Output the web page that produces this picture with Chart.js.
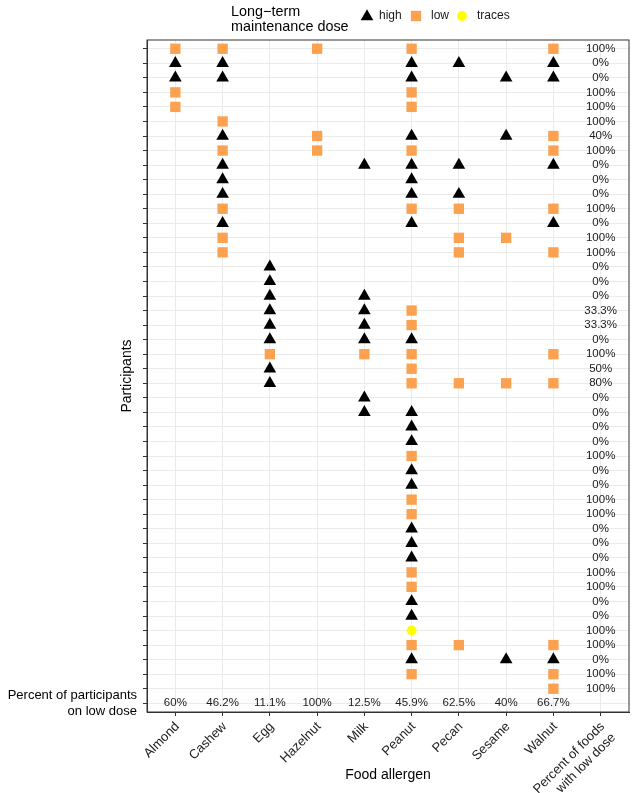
<!DOCTYPE html>
<html>
<head>
<meta charset="utf-8">
<script src="https://cdn.jsdelivr.net/npm/chart.js@4.4.1/dist/chart.umd.min.js"></script>
<style>
  body { margin: 0; background: #fff; }
  #caja { width: 638px; height: 793px; }
</style>
</head>
<body>
<div id="caja"><canvas id="grafica" width="638" height="793"></canvas></div>
<script>
const alimentos = ['Almond', 'Cashew', 'Egg', 'Hazelnut', 'Milk', 'Peanut', 'Pecan', 'Sesame', 'Walnut'];
const etiquetaPorcentajeFila = ['Percent of foods', 'with low dose'];
const etiquetaPorcentajeAlimento = ['Percent of participants', 'on low dose'];

// una cadena por participante, un caracter por alimento (H = high, L = low, T = traces, . = nada)
const filasDosis = [
  'LL.L.L..L', 'HH...HH.H', 'HH...H.HH', 'L....L...', 'L....L...',
  '.L.......', '.H.L.H.HL', '.L.L.L..L', '.H..HHH.H', '.H...H...',
  '.H...HH..', '.L...LL.L', '.H...H..H', '.L....LL.', '.L....L.L',
  '..H......', '..H......', '..H.H....', '..H.HL...', '..H.HL...',
  '..H.HH...', '..L.LL..L', '..H..L...', '..H..LLLL', '....H....',
  '....HH...', '.....H...', '.....H...', '.....L...', '.....H...',
  '.....H...', '.....L...', '.....L...', '.....H...', '.....H...',
  '.....H...', '.....L...', '.....L...', '.....H...', '.....H...',
  '.....T...', '.....LL.L', '.....H.HH', '.....L..L', '........L'
];

const porcentajeFila = [
  '100%', '0%', '0%', '100%', '100%', '100%', '40%', '100%', '0%', '0%',
  '0%', '100%', '0%', '100%', '100%', '0%', '0%', '0%', '33.3%', '33.3%',
  '0%', '100%', '50%', '80%', '0%', '0%', '0%', '0%', '100%', '0%',
  '0%', '100%', '100%', '0%', '0%', '0%', '100%', '100%', '0%', '0%',
  '100%', '100%', '0%', '100%', '100%'
];
const porcentajeAlimento = ['60%', '46.2%', '11.1%', '100%', '12.5%', '45.9%', '62.5%', '40%', '66.7%'];

const fuente = '"Liberation Sans", Arial, sans-serif';
const naranja = '#FBA14F';
const amarillo = '#FFFF00';

const puntos = { H: [], L: [], T: [] };
filasDosis.forEach((fila, i) => {
  fila.split('').forEach((c, j) => {
    if (puntos[c]) puntos[c].push({ x: j + 1, y: i + 1 });
  });
});

const etiquetasX = alimentos.concat([etiquetaPorcentajeFila]);
const filaFinal = filasDosis.length + 1;

const extras = {
  id: 'extras',
  afterDatasetsDraw(chart) {
    const ctx = chart.ctx;
    const x = chart.scales.x, y = chart.scales.y;
    ctx.save();
    ctx.fillStyle = '#1a1a1a';
    ctx.font = '11.5px ' + fuente;
    ctx.textAlign = 'center';
    ctx.textBaseline = 'middle';
    porcentajeFila.forEach((t, i) => {
      ctx.fillText(t, x.getPixelForValue(alimentos.length + 1), y.getPixelForValue(i + 1));
    });
    porcentajeAlimento.forEach((t, j) => {
      ctx.fillText(t, x.getPixelForValue(j + 1), y.getPixelForValue(filaFinal));
    });
    ctx.restore();
  },
  afterDraw(chart) {
    const ctx = chart.ctx;
    const a = chart.chartArea;
    ctx.save();
    ctx.strokeStyle = '#333';
    ctx.lineWidth = 1;
    ctx.strokeRect(a.left, a.top, a.right - a.left, a.bottom - a.top);

    ctx.fillStyle = '#000';
    ctx.font = '14px ' + fuente;
    ctx.textAlign = 'center';
    ctx.textBaseline = 'middle';
    ctx.fillText('Food allergen', (a.left + a.right) / 2, 775);
    ctx.save();
    ctx.translate(127, (a.top + a.bottom) / 2);
    ctx.rotate(-Math.PI / 2);
    ctx.fillText('Participants', 0, 0);
    ctx.restore();

    // leyenda
    ctx.textAlign = 'left';
    ctx.font = '14.4px ' + fuente;
    ctx.fillText('Long\u2212term', 231, 12);
    ctx.fillText('maintenance dose', 231, 27);
    ctx.fillStyle = '#000';
    Chart.helpers.drawPoint(ctx, { pointStyle: 'triangle', radius: 7.3, rotation: 0, borderWidth: 0 }, 367, 16.5);
    ctx.fillStyle = naranja;
    Chart.helpers.drawPoint(ctx, { pointStyle: 'rect', radius: 7.3, rotation: 0, borderWidth: 0 }, 416, 16);
    ctx.fillStyle = amarillo;
    Chart.helpers.drawPoint(ctx, { pointStyle: 'circle', radius: 5, rotation: 0, borderWidth: 0 }, 462, 16);
    ctx.fillStyle = '#1a1a1a';
    ctx.font = '12px ' + fuente;
    ctx.fillText('high', 379, 16);
    ctx.fillText('low', 431, 16);
    ctx.fillText('traces', 477, 16);
    ctx.restore();
  }
};

new Chart(document.getElementById('grafica'), {
  type: 'scatter',
  data: {
    datasets: [
      { label: 'high', data: puntos.H, pointStyle: 'triangle', pointRadius: 7.3, backgroundColor: '#000', borderWidth: 0 },
      { label: 'low', data: puntos.L, pointStyle: 'rect', pointRadius: 7.3, backgroundColor: naranja, borderWidth: 0 },
      { label: 'traces', data: puntos.T, pointStyle: 'circle', pointRadius: 5, backgroundColor: amarillo, borderWidth: 0 }
    ]
  },
  options: {
    responsive: false,
    devicePixelRatio: 1,
    animation: false,
    layout: { padding: { top: 40, right: 9, left: 0, bottom: 0 } },
    plugins: { legend: { display: false }, tooltip: { enabled: false } },
    scales: {
      x: {
        type: 'linear',
        min: 0.4,
        max: alimentos.length + 1.6,
        afterBuildTicks: (s) => { s.ticks = etiquetasX.map((_, i) => ({ value: i + 1 })); },
        afterFit: (s) => { s.height = 81; },
        ticks: {
          callback: (v) => etiquetasX[v - 1],
          autoSkip: false,
          minRotation: 45,
          maxRotation: 45,
          padding: 3,
          labelOffset: 2,
          color: '#222',
          font: { family: fuente, size: 13 }
        },
        grid: { color: '#EBEBEB', tickColor: '#333', tickLength: 4 },
        border: { color: '#333' }
      },
      y: {
        type: 'linear',
        reverse: true,
        min: 0.4,
        max: filaFinal + 0.6,
        afterBuildTicks: (s) => {
          const t = [];
          for (let i = 1; i <= filaFinal; i++) t.push({ value: i });
          s.ticks = t;
        },
        afterFit: (s) => { s.width = 147; },
        ticks: {
          callback: (v) => v === filaFinal ? etiquetaPorcentajeAlimento : '',
          autoSkip: false,
          padding: 6,
          color: '#000',
          font: { family: fuente, size: 13 }
        },
        grid: { color: '#EBEBEB', tickColor: '#333', tickLength: 4 },
        border: { color: '#333' }
      }
    }
  },
  plugins: [extras]
});
</script>
</body>
</html>
